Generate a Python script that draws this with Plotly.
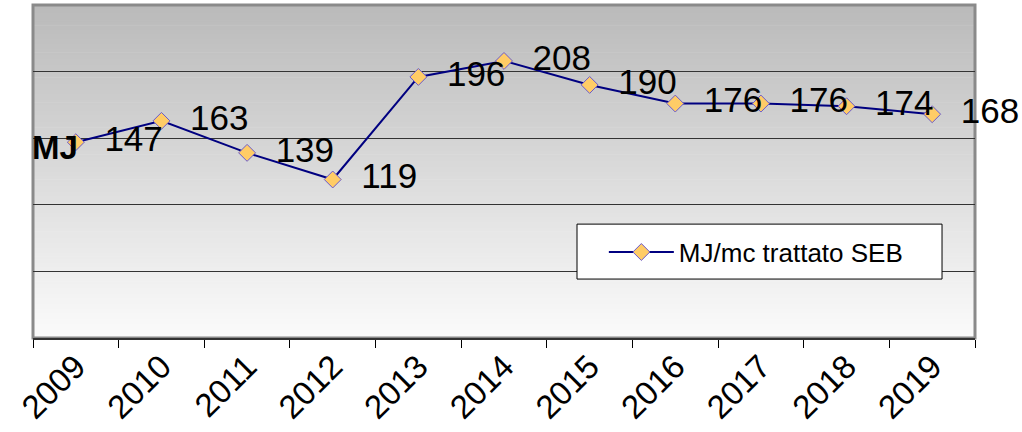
import plotly.graph_objects as go

years = ["2009", "2010", "2011", "2012", "2013", "2014", "2015", "2016", "2017", "2018", "2019"]
mj_per_mc = [147, 163, 139, 119, 196, 208, 190, 176, 176, 174, 168]
series_name = "MJ/mc trattato SEB"
y_title = "MJ"

FONT = "Liberation Sans, Arial, sans-serif"

fig = go.Figure()
fig.add_trace(go.Scatter(
    x=years, y=mj_per_mc, name=series_name,
    mode="lines+markers+text",
    line=dict(color="#000080", width=2),
    marker=dict(symbol="diamond", size=13, color="#FFCC66",
                line=dict(color="#6a5acd", width=1)),
    text=[f"  {v}" for v in mj_per_mc],
    textposition="middle right",
    textfont=dict(family=FONT, size=35, color="#000000"),
    cliponaxis=False,
))

# gradient background bands (grey at top -> white at bottom)
shapes = []
n = 160
for i in range(n):
    f = i / (n - 1)
    g = int(round(251 - (251 - 186) * f))
    shapes.append(dict(type="rect", xref="paper", yref="paper",
                       x0=0, x1=1, y0=i / n, y1=(i + 1) / n + 0.002,
                       fillcolor=f"rgb({g},{g},{g})", line=dict(width=0),
                       layer="below"))
shapes.append(dict(type="rect", xref="paper", yref="paper", x0=0, x1=1, y0=0, y1=1,
                   line=dict(color="#8a8a8a", width=3), layer="below"))
# legend frame
shapes.append(dict(type="rect", xref="paper", yref="paper",
                   x0=0.5775, x1=0.965, y0=0.177, y1=0.342,
                   fillcolor="white", line=dict(color="#000000", width=1),
                   layer="above"))

fig.update_layout(
    width=1022, height=432,
    margin=dict(l=33, r=47, t=5, b=94, autoexpand=False),
    paper_bgcolor="white",
    plot_bgcolor="white",
    shapes=shapes,
    showlegend=True,
    legend=dict(x=0.606, y=0.258, xanchor="left", yanchor="middle",
                bgcolor="rgba(0,0,0,0)", borderwidth=0,
                font=dict(family=FONT, size=26, color="#000000"),
                itemwidth=65),
    xaxis=dict(type="category", tickangle=-45, ticks="outside", ticklen=8,
               tickcolor="#000000", tickson="boundaries", showgrid=False,
               showline=True, linecolor="#333333", linewidth=2,
               tickfont=dict(family=FONT, size=33, color="#000000"),
               ticklabelstandoff=-6,
               range=[-0.5, 10.5], automargin=False),
    yaxis=dict(range=[0, 250], dtick=50, showticklabels=False,
               showgrid=True, gridcolor="#333333", gridwidth=1,
               zeroline=False, showline=False, automargin=False),
    annotations=[dict(text=f"<b>{y_title}</b>", xref="paper", yref="y",
                      x=0, y=147, xanchor="center", yanchor="middle",
                      xshift=22, yshift=-5, showarrow=False,
                      font=dict(family=FONT, size=33, color="#000000"))],
)

fig.write_html("out.html")
